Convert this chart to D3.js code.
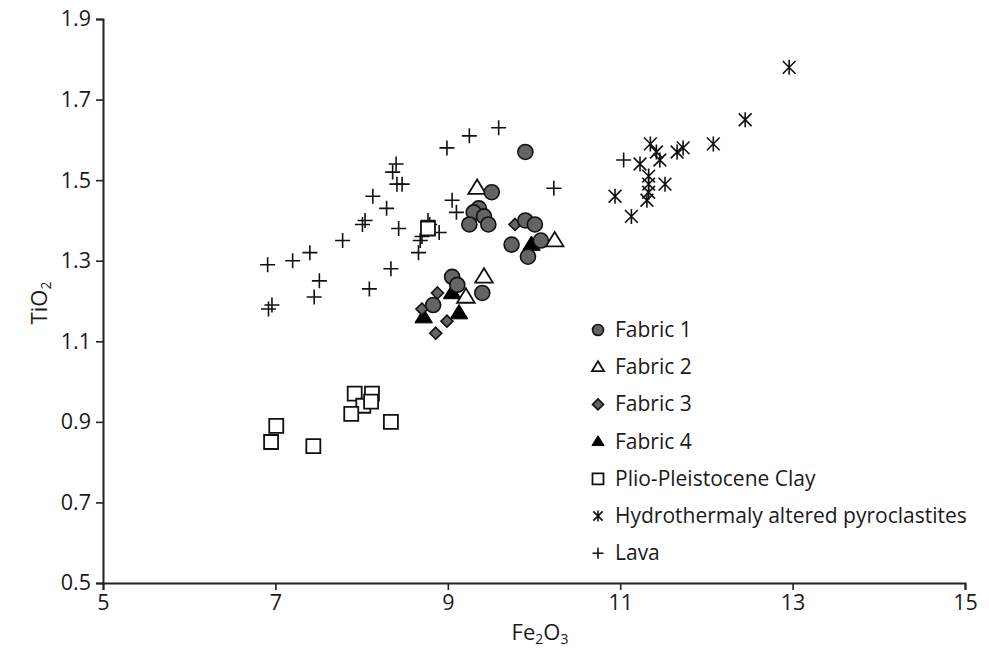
<!DOCTYPE html>
<html>
<head>
<meta charset="utf-8">
<script src="https://cdn.jsdelivr.net/npm/d3@7"></script>
<style>
  body { margin: 0; background: #fff; }
  text { font-family: "Open Sans", sans-serif; fill: #1a1a1a; }
</style>
</head>
<body>
<svg id="chart" width="989" height="650"></svg>
<script>
// values: [Fe2O3, TiO2]
let fabric1 = [[9.90,1.57],[9.51,1.47],[9.36,1.43],[9.30,1.42],[9.42,1.41],[9.25,1.39],[9.47,1.39],
  [9.90,1.40],[10.01,1.39],[9.74,1.34],[10.08,1.35],[9.93,1.31],[9.05,1.26],[9.11,1.24],[9.40,1.22],[8.83,1.19]];
let fabric2 = [[9.34,1.48],[10.24,1.35],[9.42,1.26],[9.21,1.21]];
let fabric3 = [[9.78,1.39],[8.88,1.22],[8.70,1.18],[8.99,1.15],[8.86,1.12]];
let fabric4 = [[9.97,1.34],[9.05,1.22],[8.72,1.16],[9.13,1.17]];
let clay = [[7.01,0.89],[6.95,0.85],[7.44,0.84],[7.92,0.97],[8.12,0.97],[8.02,0.94],[8.11,0.95],
  [7.88,0.92],[8.34,0.90],[8.77,1.38]];
let pyroclastites = [[12.96,1.78],[12.45,1.65],[12.08,1.59],[11.73,1.58],[11.66,1.57],[11.35,1.59],
  [11.42,1.57],[11.46,1.55],[11.23,1.54],[11.33,1.51],[11.33,1.49],[11.52,1.49],[11.33,1.47],
  [10.94,1.46],[11.31,1.45],[11.13,1.41]];
let lava = [[9.59,1.63],[9.25,1.61],[8.99,1.58],[8.40,1.54],[8.36,1.52],[8.41,1.49],[8.47,1.49],
  [10.23,1.48],[8.13,1.46],[9.05,1.45],[8.29,1.43],[9.10,1.42],[8.04,1.40],[8.01,1.39],[8.77,1.40],
  [8.79,1.39],[8.43,1.38],[8.90,1.37],[8.70,1.36],[8.68,1.35],[7.78,1.35],[8.66,1.32],[7.40,1.32],
  [7.20,1.30],[6.91,1.29],[8.34,1.28],[7.51,1.25],[8.09,1.23],[7.45,1.21],[6.96,1.19],[6.92,1.18],
  [11.04,1.55]];

let xTicks = [5, 7, 9, 11, 13, 15];
let yTicks = [0.5, 0.7, 0.9, 1.1, 1.3, 1.5, 1.7, 1.9];

let series = [
  {name: "Fabric 1", data: fabric1, shape: "circle"},
  {name: "Fabric 2", data: fabric2, shape: "triangleOpen"},
  {name: "Fabric 3", data: fabric3, shape: "diamond"},
  {name: "Fabric 4", data: fabric4, shape: "triangle"},
  {name: "Plio-Pleistocene Clay", data: clay, shape: "square"},
  {name: "Hydrothermaly altered pyroclastites", data: pyroclastites, shape: "asterisk"},
  {name: "Lava", data: lava, shape: "plus"}
];

let margin = {top: 19, right: 24, bottom: 67, left: 103},
    width = 989 - margin.left - margin.right,
    height = 650 - margin.top - margin.bottom;

let svg = d3.select("#chart");
let g = svg.append("g")
  .attr("transform", "translate(" + margin.left + "," + margin.top + ")");

let xScale = d3.scaleLinear().domain([5, 15]).range([0, width]);
let yScale = d3.scaleLinear().domain([0.5, 1.9]).range([height, 0]);

let xAxis = d3.axisBottom(xScale).tickValues(xTicks).tickSize(7).tickPadding(5)
  .tickFormat(d3.format("d"));
let yAxis = d3.axisLeft(yScale).tickValues(yTicks).tickSize(7).tickPadding(5)
  .tickFormat(d3.format(".1f"));

let gx = g.append("g").attr("class", "x axis")
  .attr("transform", "translate(0," + height + ")")
  .call(xAxis);
let gy = g.append("g").attr("class", "y axis").call(yAxis);

[gx, gy].forEach(function (ax) {
  ax.select(".domain").attr("stroke", "#222").attr("stroke-width", 2);
  ax.selectAll(".tick line").attr("stroke", "#222").attr("stroke-width", 1.6);
  ax.selectAll(".tick text").style("font-size", "21.5px").attr("fill", "#1a1a1a");
});

// axis titles with subscripts
let xt = svg.append("text").attr("x", 540).attr("y", 640)
  .attr("text-anchor", "middle").style("font-size", "22px");
xt.append("tspan").text("Fe");
xt.append("tspan").text("2").style("font-size", "14px").attr("dy", 4);
xt.append("tspan").text("O").attr("dy", -4);
xt.append("tspan").text("3").style("font-size", "14px").attr("dy", 4);

let yt = svg.append("text")
  .attr("transform", "translate(47," + (margin.top + height / 2 + 2) + ") rotate(-90)")
  .attr("text-anchor", "middle").style("font-size", "22px");
yt.append("tspan").text("TiO");
yt.append("tspan").text("2").style("font-size", "14px").attr("dy", 4);

// marker paths centered on 0,0
function markerPath(shape, s) {
  let h = s / 2;
  if (shape === "circle") {
    return "M" + h + ",0A" + h + "," + h + " 0 1,1 " + (-h) + ",0A" + h + "," + h + " 0 1,1 " + h + ",0Z";
  }
  if (shape === "triangle" || shape === "triangleOpen") {
    let th = s * 0.9;
    return "M0," + (-th * 0.6) + "L" + (h * 1.1) + "," + (th * 0.4) + "L" + (-h * 1.1) + "," + (th * 0.4) + "Z";
  }
  if (shape === "diamond") {
    return "M0," + (-h) + "L" + h + ",0L0," + h + "L" + (-h) + ",0Z";
  }
  if (shape === "square") {
    return "M" + (-h) + "," + (-h) + "H" + h + "V" + h + "H" + (-h) + "Z";
  }
  if (shape === "plus") {
    return "M" + (-h) + ",0H" + h + "M0," + (-h) + "V" + h;
  }
  if (shape === "asterisk") {
    let d = h * 0.85;
    return "M" + (-d) + "," + (-d) + "L" + d + "," + d + "M" + d + "," + (-d) + "L" + (-d) + "," + d +
      "M0," + (-h) + "V" + h;
  }
}

function styleMarker(sel, shape) {
  if (shape === "circle" || shape === "diamond") {
    sel.attr("fill", "#646464").attr("stroke", "#111").attr("stroke-width", 1.6);
  } else if (shape === "triangle") {
    sel.attr("fill", "#000").attr("stroke", "#000").attr("stroke-width", 1);
  } else if (shape === "triangleOpen" || shape === "square") {
    sel.attr("fill", "#fff").attr("stroke", "#111").attr("stroke-width", 1.8);
  } else {
    sel.attr("fill", "none").attr("stroke", "#111").attr("stroke-width", 1.6);
  }
}

let markerSize = {circle: 15, triangleOpen: 16, diamond: 12, triangle: 16, square: 14, asterisk: 15, plus: 15};

// draw in reverse so Fabric 1 sits on top, like the reference
series.slice().reverse().forEach(function (s) {
  let pts = g.append("g").attr("class", "series")
    .selectAll("path")
    .data(s.data)
    .enter().append("path")
    .attr("transform", function (d) {
      return "translate(" + xScale(d[0]) + "," + yScale(d[1]) + ")";
    })
    .attr("d", markerPath(s.shape, markerSize[s.shape]));
  styleMarker(pts, s.shape);
});

// legend
let legend = svg.append("g").attr("transform", "translate(598,330)");
let items = legend.selectAll(".item")
  .data(series)
  .enter().append("g")
  .attr("class", "item")
  .attr("transform", function (d, i) { return "translate(0," + (i * 37.2) + ")"; });

items.each(function (d) {
  let p = d3.select(this).append("path").attr("d", markerPath(d.shape, 11));
  styleMarker(p, d.shape);
});
items.append("text")
  .attr("x", 17).attr("y", 7)
  .style("font-size", "21px")
  .text(function (d) { return d.name; });
</script>
</body>
</html>
